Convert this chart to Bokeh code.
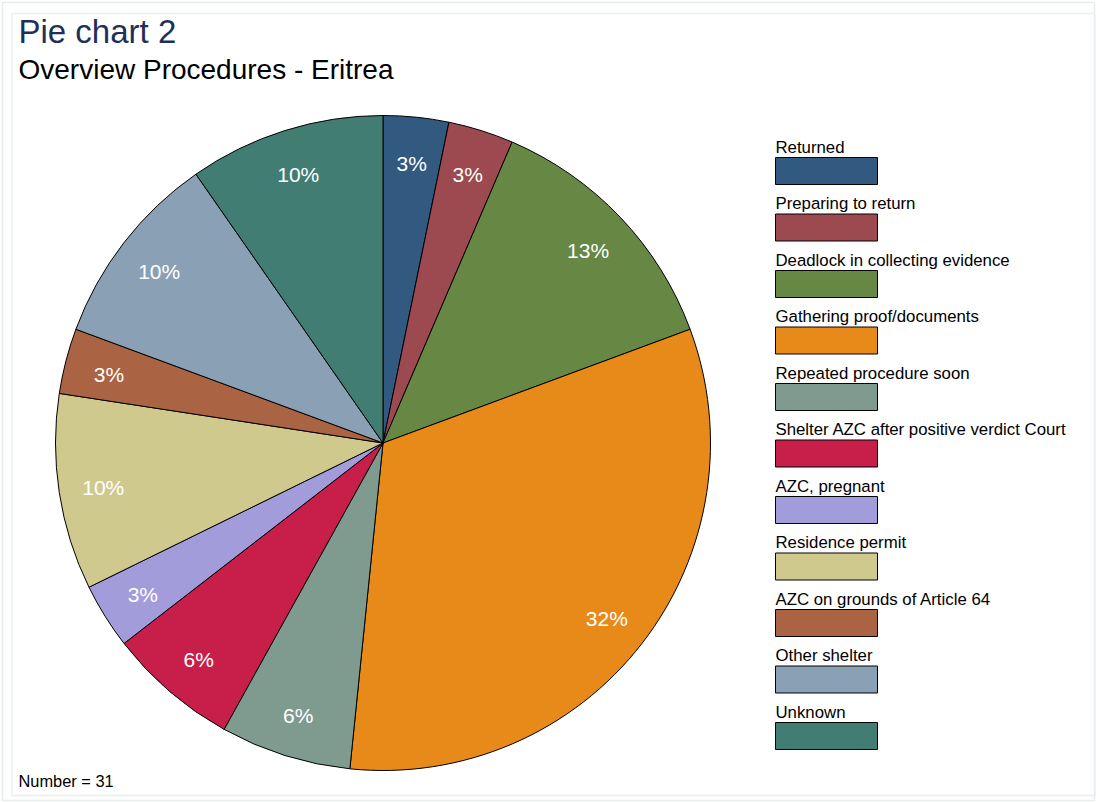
import numpy as np
from bokeh.plotting import figure
from bokeh.models import Range1d, ColumnDataSource
from bokeh.core.properties import value
from bokeh.embed import file_html
from bokeh.resources import INLINE

categories = ["Returned", "Preparing to return", "Deadlock in collecting evidence",
              "Gathering proof/documents", "Repeated procedure soon",
              "Shelter AZC after positive verdict Court", "AZC, pregnant",
              "Residence permit", "AZC on grounds of Article 64", "Other shelter", "Unknown"]
counts = [1, 1, 4, 10, 2, 2, 1, 3, 1, 3, 3]
colors = ["#325a80", "#9c4950", "#678744", "#e78a19", "#7f9b8f", "#c81f4a",
          "#a39cdb", "#cfc98e", "#aa6443", "#8aa0b5", "#427d73"]
title_text = "Pie chart 2"
subtitle_text = "Overview Procedures - Eritrea"

W, H = 1096, 802
FONT = "Liberation Sans"

p = figure(width=W, height=H, x_range=Range1d(0, W), y_range=Range1d(0, H),
           output_backend="svg", toolbar_location=None, min_border=0)
p.axis.visible = False
p.grid.visible = False
p.outline_line_color = None
p.background_fill_color = "white"
p.border_fill_color = "white"

def Y(y):
    return H - y

# faint frames
p.rect(x=[W / 2], y=[Y(401)], width=[W - 4], height=[H - 4], fill_color=None,
       line_color="#e6eded", line_width=1.5)
p.rect(x=[553], y=[Y(404)], width=[1083], height=[782], fill_color=None,
       line_color="#eaf0f0", line_width=1.5)

total = sum(counts)
cnt = np.array(counts, dtype=float)
frac = cnt / total
cum = np.concatenate([[0], np.cumsum(frac)])
start = np.pi / 2 - cum[:-1] * 2 * np.pi
end = np.pi / 2 - cum[1:] * 2 * np.pi
mid = (start + end) / 2

cx, cy, R = 382.5, Y(442.5), 327.5
src = ColumnDataSource(dict(start=start, end=end, color=colors, cat=categories))
p.wedge(x=cx, y=cy, radius=R, start_angle="start", end_angle="end", direction="clock",
        fill_color="color", line_color="black", line_width=1, source=src)

lr = 283
labels = ["%d%%" % round(f * 100) for f in frac]
p.text(x=cx + lr * np.cos(mid), y=cy - 2 + lr * np.sin(mid), text=labels,
       text_color="white", text_font=value(FONT), text_font_size="21px",
       text_align="center", text_baseline="middle")

# legend
n = len(categories)
idx = np.arange(n)
top = 157 + idx * 56.5
p.rect(x=[826] * n, y=[Y(t + 13.5) for t in top], width=[102] * n, height=[27] * n,
       fill_color=colors, line_color="black", line_width=1)
p.text(x=[775] * n, y=[Y(t - 1) for t in top], text=categories,
       text_color="black", text_font=value(FONT), text_font_size="16.8px",
       text_align="left", text_baseline="bottom")

# titles
p.text(x=[18], y=[Y(49)], text=[title_text], text_color="#1f2f5c",
       text_font=value(FONT), text_font_size="33px", text_baseline="bottom")
p.text(x=[18], y=[Y(84)], text=[subtitle_text], text_color="black",
       text_font=value(FONT), text_font_size="28px", text_baseline="bottom")
p.text(x=[18], y=[Y(789)], text=["Number = %d" % total], text_color="black",
       text_font=value(FONT), text_font_size="16.4px", text_baseline="bottom")

open("out.html", "w").write(file_html(p, INLINE))
